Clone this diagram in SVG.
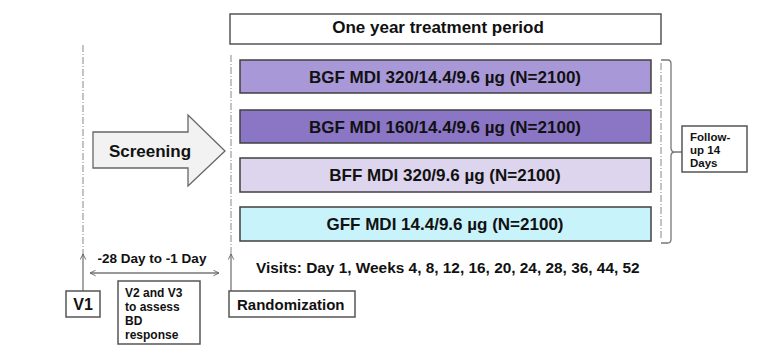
<svg xmlns="http://www.w3.org/2000/svg" width="765" height="359" viewBox="0 0 765 359">
<defs>
<style>
text{font-family:"Liberation Sans",Arial,sans-serif;font-weight:bold;fill:#111}
.box{stroke:#404040;stroke-width:1.5}
.wbox{fill:#fff;stroke:#555;stroke-width:1.5}
.dash{stroke:#888;stroke-width:1;stroke-dasharray:7 2 1 2;fill:none}
.conn{stroke:#777;stroke-width:1.3;fill:none}
.tr{font-size:17px;text-anchor:middle}
</style>
<marker id="ah" viewBox="0 0 10 10" refX="9" refY="5" markerWidth="7" markerHeight="7" orient="auto-start-reverse" markerUnits="userSpaceOnUse">
<path d="M1,1 L9,5 L1,9" fill="none" stroke="#666" stroke-width="1.3"/>
</marker>
</defs>
<rect width="765" height="359" fill="#fff"/>

<g id="connectors">
<line class="dash" x1="83" y1="45" x2="83" y2="255"/>
<line class="dash" x1="231" y1="55" x2="231" y2="255"/>
<line class="dash" x1="661" y1="63" x2="661" y2="238"/>
<path class="conn" d="M661,60 L668,60 Q671,60 671,64 L671,148 Q671,152 675,152 L682,152 M675,152 Q671,152 671,156 L671,239 Q671,243 668,243 L661,243"/>
<line class="conn" x1="83" y1="291" x2="83" y2="254" marker-end="url(#ah)"/>
<line class="conn" x1="231" y1="291" x2="231" y2="254" marker-end="url(#ah)"/>
<line class="conn" x1="90" y1="273" x2="219" y2="273" marker-start="url(#ah)" marker-end="url(#ah)"/>
</g>

<g id="period">
<rect class="wbox" x="230" y="14" width="431" height="30"/>
<text x="438" y="33" font-size="17" text-anchor="middle">One year treatment period</text>
</g>

<g id="screening">
<path d="M93,132 L188,132 L188,115 L225,151 L188,186 L188,168 L93,168 Z" fill="#f2f2f2" stroke="#666" stroke-width="1.3"/>
<text x="150" y="157" font-size="17" text-anchor="middle">Screening</text>
</g>

<g id="arm1">
<rect class="box" x="240" y="60" width="411" height="33" fill="#a898d7"/>
<text class="tr" x="445" y="83">BGF MDI 320/14.4/9.6 µg (N=2100)</text>
</g>
<g id="arm2">
<rect class="box" x="240" y="110" width="411" height="33" fill="#8b76c6"/>
<text class="tr" x="445" y="133">BGF MDI 160/14.4/9.6 µg (N=2100)</text>
</g>
<g id="arm3">
<rect class="box" x="240" y="158" width="411" height="34" fill="#ddd5ed"/>
<text class="tr" x="445" y="181">BFF MDI 320/9.6 µg (N=2100)</text>
</g>
<g id="arm4">
<rect class="box" x="240" y="207" width="411" height="34" fill="#c9f3fb"/>
<text class="tr" x="445" y="230">GFF MDI 14.4/9.6 µg (N=2100)</text>
</g>

<g id="followup">
<rect class="wbox" x="682" y="126" width="65" height="46"/>
<text font-size="11.5" x="690" y="141">Follow-</text>
<text font-size="11.5" x="690" y="154">up 14</text>
<text font-size="11.5" x="690" y="167">Days</text>
</g>

<g id="v1">
<rect class="wbox" x="66" y="291" width="34" height="26"/>
<text x="83" y="310" font-size="16" text-anchor="middle">V1</text>
</g>

<g id="range-label">
<text x="152" y="263" font-size="13.5" text-anchor="middle">-28 Day to -1 Day</text>
</g>

<g id="v2v3">
<rect class="wbox" x="118" y="281" width="82" height="63"/>
<text font-size="12" x="125" y="297">V2 and V3</text>
<text font-size="12" x="125" y="311">to assess</text>
<text font-size="12" x="125" y="325">BD</text>
<text font-size="12" x="125" y="339">response</text>
</g>

<g id="randomization">
<rect class="wbox" x="229" y="291" width="126" height="26"/>
<text x="237" y="310" font-size="15">Randomization</text>
</g>

<g id="visits">
<text x="256" y="273" font-size="15.4">Visits: Day 1, Weeks 4, 8, 12, 16, 20, 24, 28, 36, 44, 52</text>
</g>
</svg>
